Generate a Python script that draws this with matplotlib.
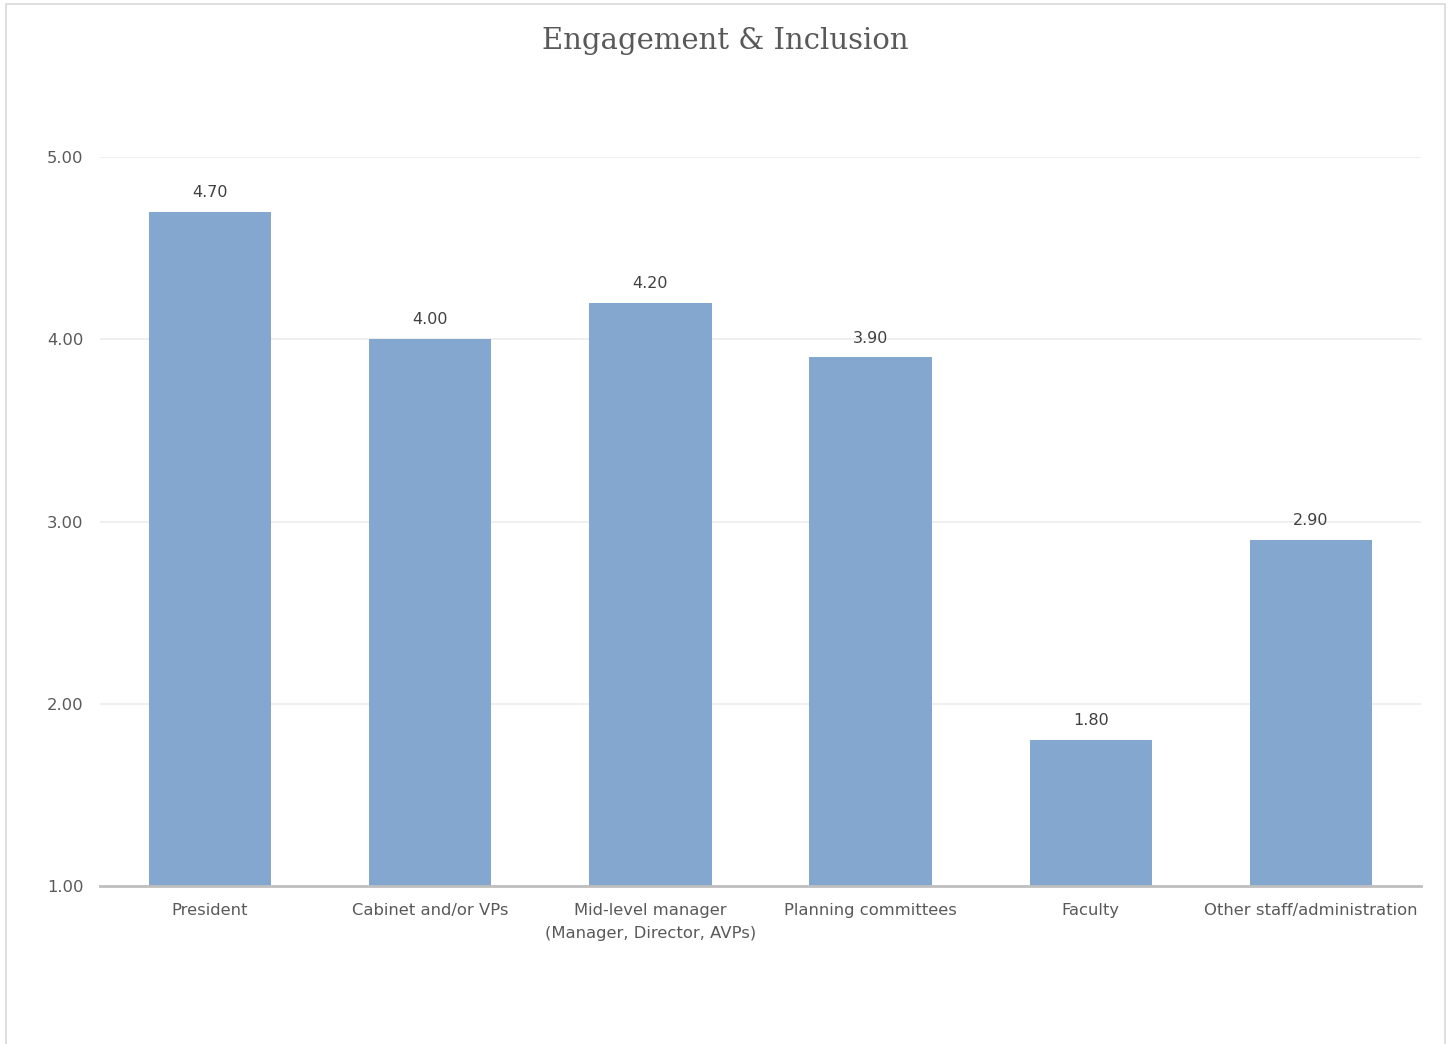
import matplotlib
matplotlib.use("Agg")
import matplotlib.pyplot as plt
from matplotlib.patches import Rectangle

# data
categories = ["President", "Cabinet and/or VPs",
              "Mid-level manager\n(Manager, Director, AVPs)",
              "Planning committees", "Faculty", "Other staff/administration"]
scores = [4.70, 4.00, 4.20, 3.90, 1.80, 2.90]
y_ticks = [1.0, 2.0, 3.0, 4.0, 5.0]

BAR_COLOR = "#84A7CF"
TEXT_GREY = "#595959"


def main():
    W, H = 1451, 1044
    fig = plt.figure(figsize=(W / 100, H / 100), dpi=100)

    # light chart-area border (bottom runs off the image)
    fig.patches.append(Rectangle((6 / W, -0.02), (1445 - 6) / W, 1.02 - 4 / H,
                                 transform=fig.transFigure, fill=False,
                                 edgecolor="#D9D9D9", linewidth=1.2))

    ax = fig.add_axes([100 / W, 1 - 886 / H, (1421 - 100) / W, (886 - 157) / H])

    x = range(len(categories))
    bars = ax.bar(x, [s - 1.0 for s in scores], bottom=1.0, width=0.555,
                  color=BAR_COLOR, zorder=2)

    for rect, s in zip(bars, scores):
        ax.annotate(f"{s:.2f}", (rect.get_x() + rect.get_width() / 2, s),
                    xytext=(0, 8.5), textcoords="offset points",
                    ha="center", va="bottom", fontsize=11.5, color="#404040")

    ax.set_xlim(-0.5, len(categories) - 0.5)
    ax.set_ylim(1.0, 5.0)
    ax.set_yticks(y_ticks)
    ax.set_yticklabels([f"{v:.2f}" for v in y_ticks])
    ax.set_xticks(list(x))
    ax.set_xticklabels(categories, linespacing=1.65)
    ax.tick_params(axis="both", length=0, labelsize=11.8, labelcolor=TEXT_GREY)
    ax.tick_params(axis="x", pad=12.5)
    ax.tick_params(axis="y", pad=12)

    ax.grid(axis="y", color="#ECECEC", linewidth=1.2, zorder=0)
    ax.set_axisbelow(True)
    for side in ("left", "right", "top"):
        ax.spines[side].set_visible(False)
    ax.spines["bottom"].set_color("#BFBFBF")
    ax.spines["bottom"].set_linewidth(2)
    ax.spines["bottom"].set_zorder(3)

    fig.text(725 / W, 1 - 41 / H, "Engagement & Inclusion", ha="center",
             va="center", fontsize=21, family="DejaVu Serif", color=TEXT_GREY)

    fig.savefig("out.png", dpi=100, facecolor="white")


if __name__ == "__main__":
    main()
